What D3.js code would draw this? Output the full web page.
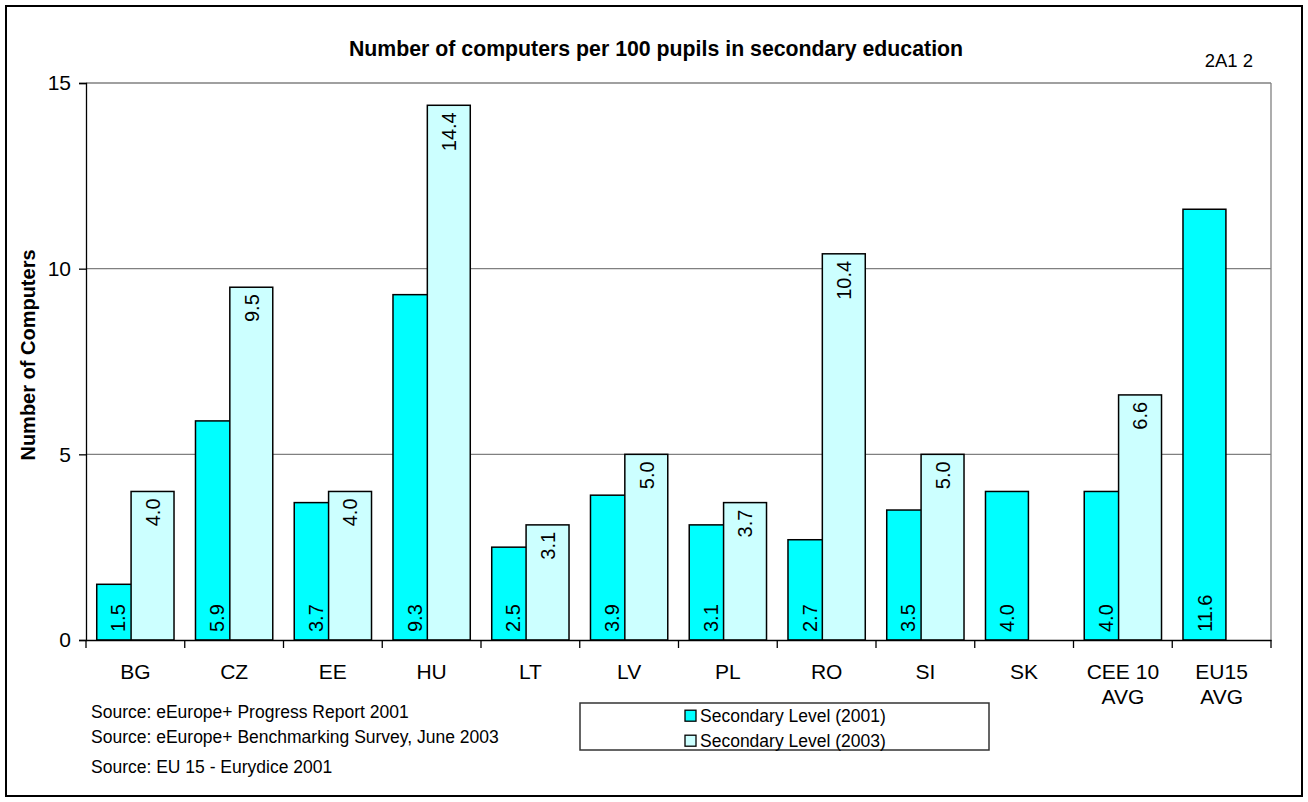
<!DOCTYPE html>
<html>
<head>
<meta charset="utf-8">
<script src="https://cdn.jsdelivr.net/npm/d3@7"></script>
<style>
  html, body { margin: 0; padding: 0; background: #fff; }
  svg { display: block; font-family: "Liberation Sans", Arial, sans-serif; }
</style>
</head>
<body>
<svg id="chart" width="1308" height="802"></svg>
<script>
// Country codes and averages along the x axis (multi-line labels split into lines)
const categories = ["BG", "CZ", "EE", "HU", "LT", "LV", "PL", "RO", "SI", "SK", "CEE 10 AVG", "EU15 AVG"];
const categoryLines = [["BG"], ["CZ"], ["EE"], ["HU"], ["LT"], ["LV"], ["PL"], ["RO"], ["SI"], ["SK"], ["CEE 10", "AVG"], ["EU15", "AVG"]];

// Computers per 100 pupils, secondary level
const values2001 = [1.5, 5.9, 3.7, 9.3, 2.5, 3.9, 3.1, 2.7, 3.5, 4.0, 4.0, 11.6];
const values2003 = [4.0, 9.5, 4.0, 14.4, 3.1, 5.0, 3.7, 10.4, 5.0, null, 6.6, null];

const seriesNames = ["Secondary Level (2001)", "Secondary Level (2003)"];
const yTicks = [0, 5, 10, 15];

const sources = [
  "Source: eEurope+ Progress Report 2001",
  "Source: eEurope+ Benchmarking Survey, June  2003",
  "Source: EU 15 - Eurydice 2001"
];

const colors = ["#00FFFF", "#CCFFFF"];

const svg = d3.select("#chart");
const plot = { left: 86, right: 1271, top: 83, bottom: 640 };

// Outer frame
svg.append("rect")
  .attr("x", 6).attr("y", 6).attr("width", 1296).attr("height", 790)
  .attr("fill", "#fff").attr("stroke", "#000").attr("stroke-width", 2);

const x = d3.scaleBand().domain(categories).range([plot.left, plot.right]).padding(0);
const y = d3.scaleLinear().domain([0, 15]).range([plot.bottom, plot.top]);

const band = x.bandwidth();
const barW = band / 2.3;          // two bars overlapping by 20%, gap of half a bar
const offset1 = barW * 0.25;
const offset2 = offset1 + barW * 0.8;

// Horizontal gridlines
svg.append("g").selectAll("line")
  .data(yTicks.filter(d => d > 0))
  .join("line")
  .attr("x1", plot.left).attr("x2", plot.right)
  .attr("y1", d => y(d)).attr("y2", d => y(d))
  .attr("stroke", "#808080").attr("stroke-width", 1.3);

// Right edge of the plot area
svg.append("line")
  .attr("x1", plot.right).attr("x2", plot.right)
  .attr("y1", plot.top).attr("y2", plot.bottom)
  .attr("stroke", "#808080").attr("stroke-width", 1.3);

// Bars: 2001 first, 2003 drawn over it
const rows = categories.map((c, i) => ({ c, v1: values2001[i], v2: values2003[i] }));

svg.append("g").selectAll("rect")
  .data(rows.filter(d => d.v1 != null))
  .join("rect")
  .attr("x", d => x(d.c) + offset1)
  .attr("y", d => y(d.v1))
  .attr("width", barW)
  .attr("height", d => y(0) - y(d.v1))
  .attr("fill", colors[0]).attr("stroke", "#000").attr("stroke-width", 1.5);

svg.append("g").selectAll("rect")
  .data(rows.filter(d => d.v2 != null))
  .join("rect")
  .attr("x", d => x(d.c) + offset2)
  .attr("y", d => y(d.v2))
  .attr("width", barW)
  .attr("height", d => y(0) - y(d.v2))
  .attr("fill", colors[1]).attr("stroke", "#000").attr("stroke-width", 1.5);

// Y axis
const yAxis = svg.append("g")
  .attr("transform", `translate(${plot.left},0)`)
  .call(d3.axisLeft(y).tickValues(yTicks).tickSize(7).tickPadding(8).tickFormat(d3.format("d")));
yAxis.select(".domain").attr("stroke", "#000").attr("stroke-width", 1.3);
yAxis.selectAll(".tick line").attr("stroke", "#000").attr("stroke-width", 1.3);
yAxis.selectAll(".tick text")
  .attr("font-family", "Liberation Sans, Arial, sans-serif")
  .attr("font-size", 21).attr("fill", "#000");

// X axis with ticks on the band boundaries
const xAxis = svg.append("g")
  .attr("transform", `translate(0,${plot.bottom})`)
  .call(d3.axisBottom(x).tickSize(0).tickFormat(""));
xAxis.select(".domain").attr("stroke", "#000").attr("stroke-width", 1.3);
xAxis.selectAll(".tick").remove();

const boundaries = categories.map(c => x(c)).concat([plot.right]);
svg.append("g").selectAll("line")
  .data(boundaries)
  .join("line")
  .attr("x1", d => d).attr("x2", d => d)
  .attr("y1", plot.bottom).attr("y2", plot.bottom + 8)
  .attr("stroke", "#000").attr("stroke-width", 1.3);

// Category labels
const catG = svg.append("g").attr("font-size", 21).attr("text-anchor", "middle").attr("fill", "#000");
categories.forEach((c, i) => {
  const t = catG.append("text")
    .attr("x", x(c) + band / 2)
    .attr("y", 679);
  categoryLines[i].forEach((line, j) => {
    t.append("tspan").attr("x", x(c) + band / 2).attr("dy", j === 0 ? 0 : 25).text(line);
  });
});

// Value labels, rotated: 2001 at the bar base, 2003 at the bar end
const fmt = d3.format(".1f");
const labelG = svg.append("g").attr("font-size", 20).attr("fill", "#000");
labelG.selectAll("text.v1")
  .data(rows.filter(d => d.v1 != null))
  .join("text")
  .attr("class", "v1")
  .attr("transform", d => `translate(${x(d.c) + offset1 + barW / 2},${y(0) - 8}) rotate(-90)`)
  .attr("dy", "0.36em")
  .attr("text-anchor", "start")
  .text(d => fmt(d.v1));
labelG.selectAll("text.v2")
  .data(rows.filter(d => d.v2 != null))
  .join("text")
  .attr("class", "v2")
  .attr("transform", d => `translate(${x(d.c) + offset2 + barW / 2},${y(d.v2) + 7}) rotate(-90)`)
  .attr("dy", "0.36em")
  .attr("text-anchor", "end")
  .text(d => fmt(d.v2));

// Titles
svg.append("text")
  .attr("x", 656).attr("y", 56)
  .attr("text-anchor", "middle")
  .attr("font-size", 21.3).attr("font-weight", "bold")
  .text("Number of computers per 100 pupils in secondary education");

svg.append("text")
  .attr("x", 1253).attr("y", 67)
  .attr("text-anchor", "end")
  .attr("font-size", 18.5)
  .text("2A1 2");

svg.append("text")
  .attr("transform", `translate(35,355) rotate(-90)`)
  .attr("text-anchor", "middle")
  .attr("font-size", 20).attr("font-weight", "bold")
  .text("Number of Computers");

// Source notes
svg.append("g").attr("font-size", 17.5)
  .selectAll("text")
  .data(sources)
  .join("text")
  .attr("x", 91)
  .attr("y", (d, i) => [717.5, 742.5, 772.5][i])
  .text(d => d);

// Legend
const legend = svg.append("g");
legend.append("rect")
  .attr("x", 580).attr("y", 703).attr("width", 409).attr("height", 47)
  .attr("fill", "#fff").attr("stroke", "#333").attr("stroke-width", 1.5);
seriesNames.forEach((name, i) => {
  const cy = 715.7 + i * 25;
  legend.append("rect")
    .attr("x", 685).attr("y", cy - 5.5).attr("width", 11).attr("height", 11)
    .attr("fill", colors[i]).attr("stroke", "#000").attr("stroke-width", 1.3);
  legend.append("text")
    .attr("x", 700).attr("y", cy).attr("dy", "0.36em")
    .attr("font-size", 17.5)
    .text(name);
});
</script>
</body>
</html>
